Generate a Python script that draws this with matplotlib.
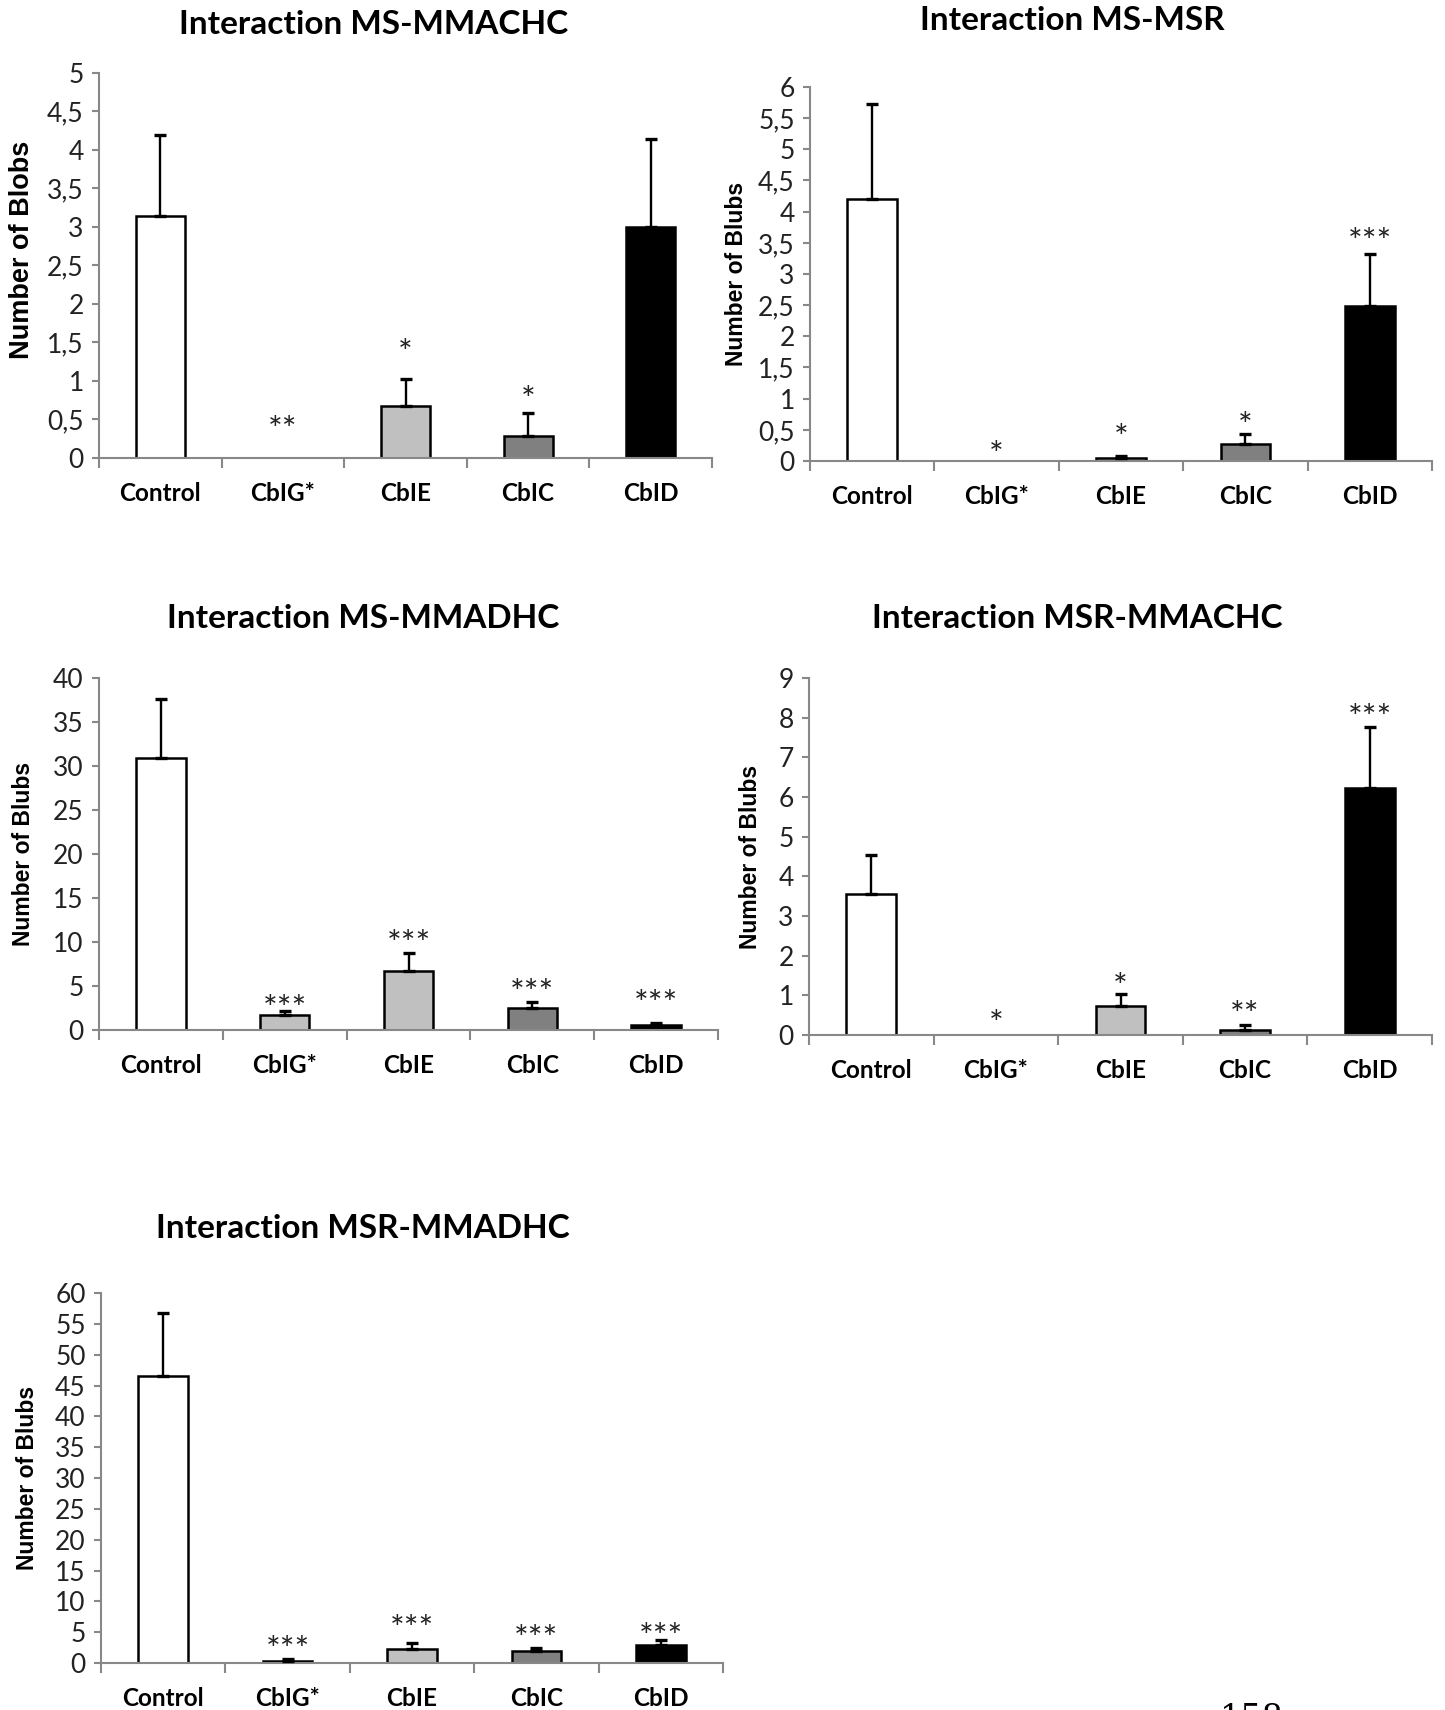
import matplotlib.pyplot as plt
import numpy as np
from matplotlib.ticker import MultipleLocator, FuncFormatter

categories = ["Control", "CbIG*", "CbIE", "CbIC", "CbID"]
bar_colors = ["white", "#c0c0c0", "#c0c0c0", "#808080", "black"]

# panel 1: MS-MMACHC
ms_mmachc = [3.14, 0.0, 0.68, 0.28, 3.0]
ms_mmachc_err = [1.05, 0.0, 0.34, 0.31, 1.14]
ms_mmachc_stars = ["", "**", "*", "*", ""]
ms_mmachc_star_y = [0, 0.47, 1.47, 0.86, 0]

# panel 2: MS-MSR
ms_msr = [4.2, 0.0, 0.05, 0.27, 2.48]
ms_msr_err = [1.53, 0.0, 0.03, 0.17, 0.84]
ms_msr_stars = ["", "*", "*", "*", "***"]
ms_msr_star_y = [0, 0.23, 0.51, 0.70, 3.64]

# panel 3: MS-MMADHC
ms_mmadhc = [30.9, 1.75, 6.7, 2.5, 0.6]
ms_mmadhc_err = [6.7, 0.4, 2.1, 0.7, 0.25]
ms_mmadhc_stars = ["", "***", "***", "***", "***"]
ms_mmadhc_star_y = [0, 3.35, 10.7, 5.1, 3.85]

# panel 4: MSR-MMACHC
msr_mmachc = [3.55, 0.0, 0.72, 0.12, 6.22]
msr_mmachc_err = [0.99, 0.0, 0.32, 0.13, 1.54]
msr_mmachc_stars = ["", "*", "*", "**", "***"]
msr_mmachc_star_y = [0, 0.5, 1.43, 0.72, 8.2]

# panel 5: MSR-MMADHC
msr_mmadhc = [46.5, 0.4, 2.3, 1.9, 2.9]
msr_mmadhc_err = [10.3, 0.2, 0.9, 0.6, 0.9]
msr_mmadhc_stars = ["", "***", "***", "***", "***"]
msr_mmadhc_star_y = [0, 3.5, 6.9, 5.3, 5.5]

W, H = 1445, 1710
fig = plt.figure(figsize=(W / 100, H / 100), dpi=100)

def px_axes(l, r, t, b):
    return [l / W, 1 - b / H, (r - l) / W, (b - t) / H]

panels = [
    # title, title x/y px, axes px (l,r,t,b), ymax, step, ylabel, label size, label x/y, data
    ("Interaction MS-MMACHC", 374, 24, (99, 712, 73, 458), 5, 0.5, "Number of Blobs", 19.5, -0.104, 0.54,
     ms_mmachc, ms_mmachc_err, ms_mmachc_stars, ms_mmachc_star_y),
    ("Interaction MS-MSR", 1072, 20, (810, 1432, 87, 461), 6, 0.5, "Number of Blubs", 16.5, -0.10, 0.5,
     ms_msr, ms_msr_err, ms_msr_stars, ms_msr_star_y),
    ("Interaction MS-MMADHC", 363, 618, (99, 718, 678, 1030), 40, 5, "Number of Blubs", 16.5, -0.103, 0.5,
     ms_mmadhc, ms_mmadhc_err, ms_mmadhc_stars, ms_mmadhc_star_y),
    ("Interaction MSR-MMACHC", 1077, 618, (809, 1432, 678, 1035), 9, 1, "Number of Blubs", 16.5, -0.0755, 0.5,
     msr_mmachc, msr_mmachc_err, msr_mmachc_stars, msr_mmachc_star_y),
    ("Interaction MSR-MMADHC", 363, 1229, (101, 723, 1293, 1663), 60, 5, "Number of Blubs", 16.5, -0.10, 0.5,
     msr_mmadhc, msr_mmadhc_err, msr_mmadhc_stars, msr_mmadhc_star_y),
]

comma = FuncFormatter(lambda v, p: ("%g" % v).replace(".", ","))
star_size = 25

for (title, tx, ty, box, ymax, step, ylab, lsize, labx, laby, vals, errs, stars, star_y) in panels:
    ax = fig.add_axes(px_axes(*box))
    x = np.arange(len(categories))
    vals = np.array(vals)
    errs = np.array(errs)
    lw = [1.8 if v > 0 else 0 for v in vals]
    ax.bar(x, vals, width=0.4, color=bar_colors, edgecolor="black", linewidth=lw, zorder=2)
    has = errs > 0
    ax.errorbar(x[has], vals[has], yerr=[np.zeros(has.sum()), errs[has]], fmt="none", ecolor="black",
                elinewidth=1.7, capsize=4.5, capthick=2.4, zorder=3)
    for xi, s, sy in zip(x, stars, star_y):
        if s:
            ax.annotate(s, (xi, sy), xytext=(0, -0.27 * star_size), textcoords="offset points",
                        ha="center", va="center", fontsize=star_size, family="Lato", color="#222")
    ax.set_xlim(-0.5, len(categories) - 0.5)
    ax.set_ylim(0, ymax)
    ax.yaxis.set_major_locator(MultipleLocator(step))
    ax.yaxis.set_major_formatter(comma)
    for sp in ["top", "right"]:
        ax.spines[sp].set_visible(False)
    for sp in ["left", "bottom"]:
        ax.spines[sp].set_color("#888888")
        ax.spines[sp].set_linewidth(1.5)
    ax.set_xticks(np.arange(len(categories) + 1) - 0.5)
    ax.set_xticklabels([])
    ax.set_xticks(x, minor=True)
    ax.set_xticklabels(categories, minor=True, fontsize=17.5, fontweight="bold", family="Lato")
    ax.tick_params(axis="x", which="major", length=7, width=1.5, color="#888888")
    ax.tick_params(axis="x", which="minor", length=0, pad=17)
    ax.tick_params(axis="y", length=5, width=1.5, color="#888888", labelsize=19, pad=6)
    for lab in ax.get_yticklabels():
        lab.set_family("Lato")
        lab.set_color("#222")
    ax.set_ylabel(ylab, fontsize=lsize, fontweight="bold", family="Liberation Sans")
    ax.yaxis.set_label_coords(labx, laby)
    fig.text(tx / W, 1 - ty / H, title, ha="center", va="center", fontsize=24,
             fontweight="bold", family="Lato")

fig.text(1252 / W, 1 - 1703 / H, "158", ha="center", va="top", fontsize=24, family="DejaVu Serif")

fig.savefig("out.png", dpi=100, facecolor="white")
